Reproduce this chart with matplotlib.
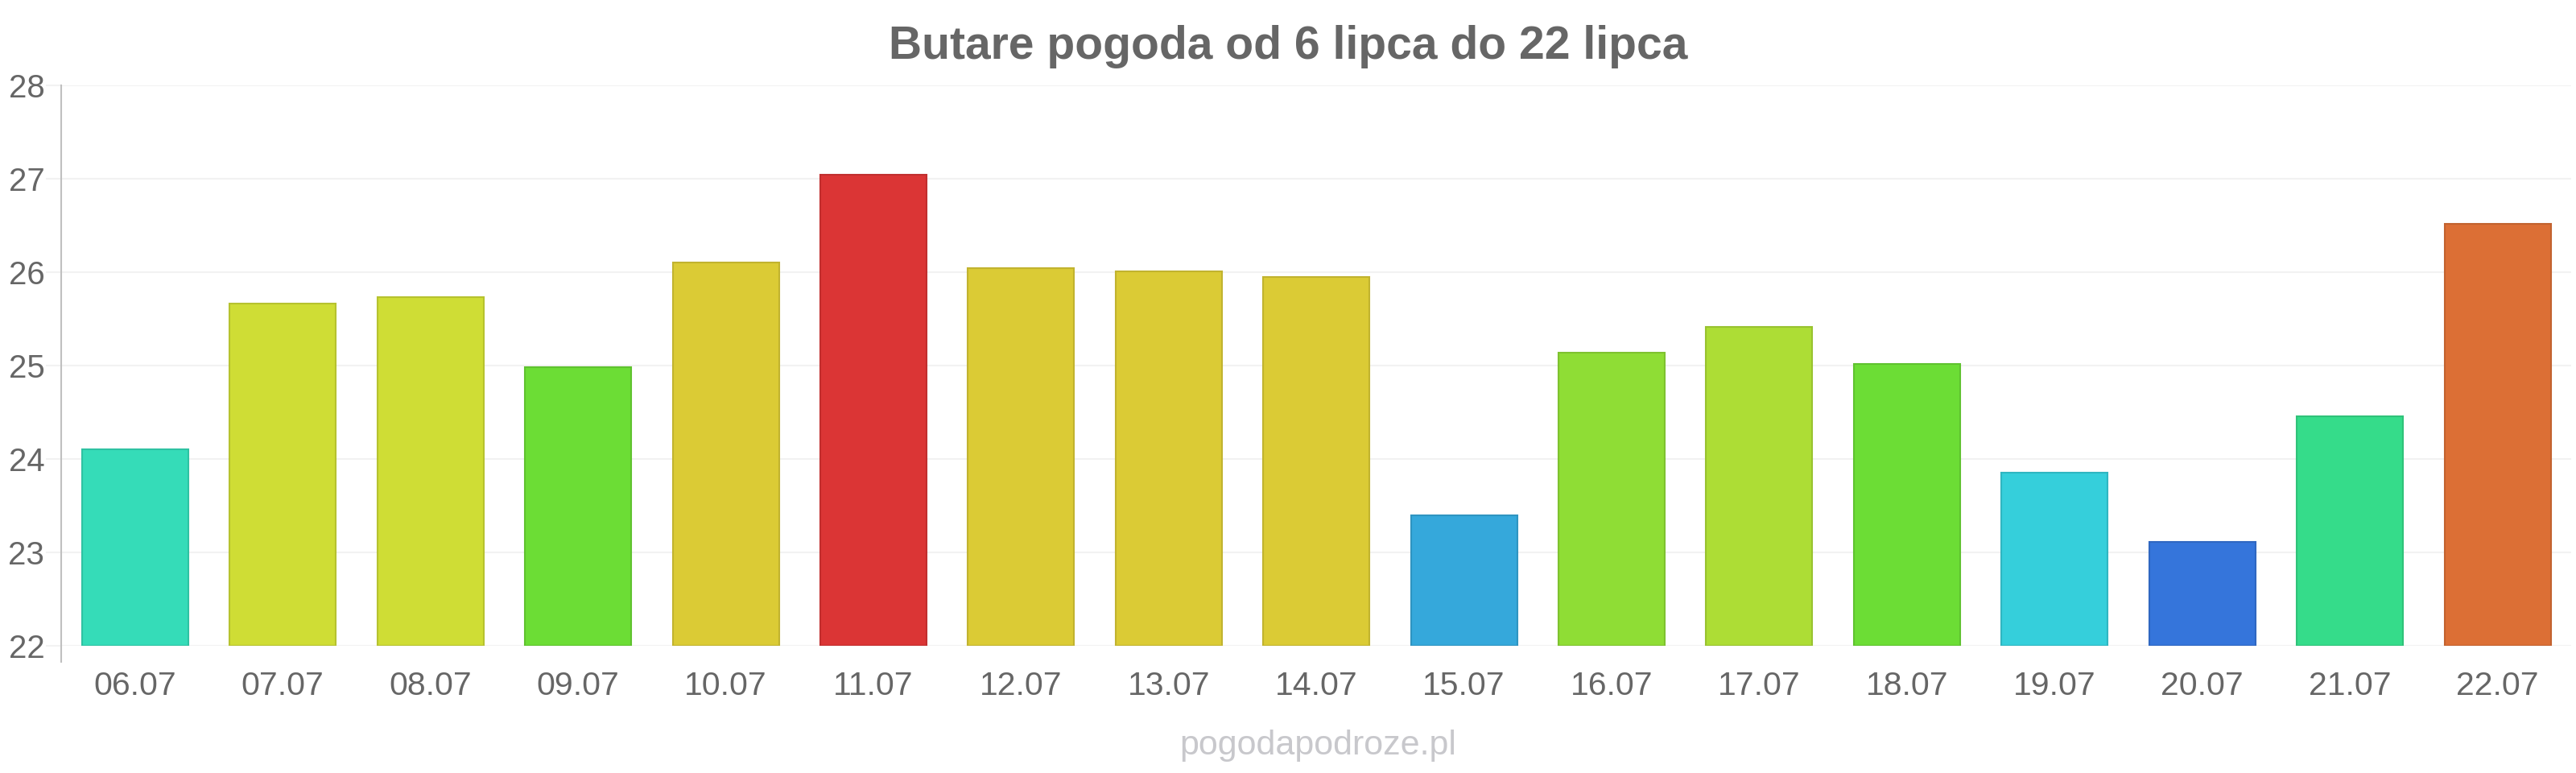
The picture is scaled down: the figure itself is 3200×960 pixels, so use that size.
import matplotlib
matplotlib.use("Agg")
import matplotlib.pyplot as plt
import matplotlib.colors as mcolors

plt.rcParams['font.family'] = ['Liberation Sans', 'DejaVu Sans']

dates = ["06.07", "07.07", "08.07", "09.07", "10.07", "11.07", "12.07", "13.07", "14.07",
         "15.07", "16.07", "17.07", "18.07", "19.07", "20.07", "21.07", "22.07"]
temps = [24.1, 25.66, 25.73, 24.98, 26.1, 27.04, 26.04, 26.01, 25.95,
         23.4, 25.14, 25.41, 25.02, 23.85, 23.11, 24.46, 26.52]
colors = ["#35dcb8", "#cfdd35", "#cfdd35", "#6cdd35", "#dbcb35", "#db3535", "#dbcb35",
          "#dbcb35", "#dbcb35", "#35a8db", "#8fdd35", "#addd35", "#6cdd35", "#35cfdb",
          "#3575db", "#35dc8a", "#dc6f35"]
yticks = [22, 23, 24, 25, 26, 27, 28]
title = "Butare pogoda od 6 lipca do 22 lipca"
watermark = "pogodapodroze.pl"

def darker(c, f=0.88):
    r, g, b = mcolors.to_rgb(c)
    return (r * f, g * f, b * f)

fig = plt.figure(figsize=(32, 9.6), dpi=100)
ax = fig.add_axes([0.0238, 0.1646, 0.9744, 0.725])

x = list(range(len(dates)))
base = yticks[0]
ax.bar(x, [t - base for t in temps], bottom=base, width=0.72, color=colors,
       edgecolor=[darker(c) for c in colors], linewidth=1.5, zorder=3)

ax.set_xlim(-0.5, len(dates) - 0.5)
ax.set_ylim(yticks[0], yticks[-1])
ax.set_yticks(yticks)
ax.set_yticklabels([str(v) for v in yticks])
ax.set_xticks(x)
ax.set_xticklabels(dates)

ax.grid(axis='y', color='#f2f2f2', linewidth=1.5, zorder=0)
ax.set_axisbelow(True)
for s in ['top', 'right', 'bottom']:
    ax.spines[s].set_visible(False)
ax.spines['left'].set_color('#c0c0c0')
ax.spines['left'].set_linewidth(1.5)

ax.tick_params(axis='y', length=14, width=1.5, color='#f2f2f2', labelsize=29,
               labelcolor='#666666', pad=1)
ax.tick_params(axis='x', which='major', length=0, labelsize=29.5, labelcolor='#666666', pad=22)
ax.set_xticks([-0.5], minor=True)
ax.tick_params(axis='x', which='minor', length=15, width=1.5, color='#c0c0c0')

fig.text(0.5, 0.94, title, ha='center', va='center', fontsize=41,
         fontweight='bold', color='#666666')
fig.text(0.5116, 0.035, watermark, ha='center', va='center', fontsize=31, color='#c8c8cc')

fig.savefig("out.png", dpi=100, facecolor='white')
